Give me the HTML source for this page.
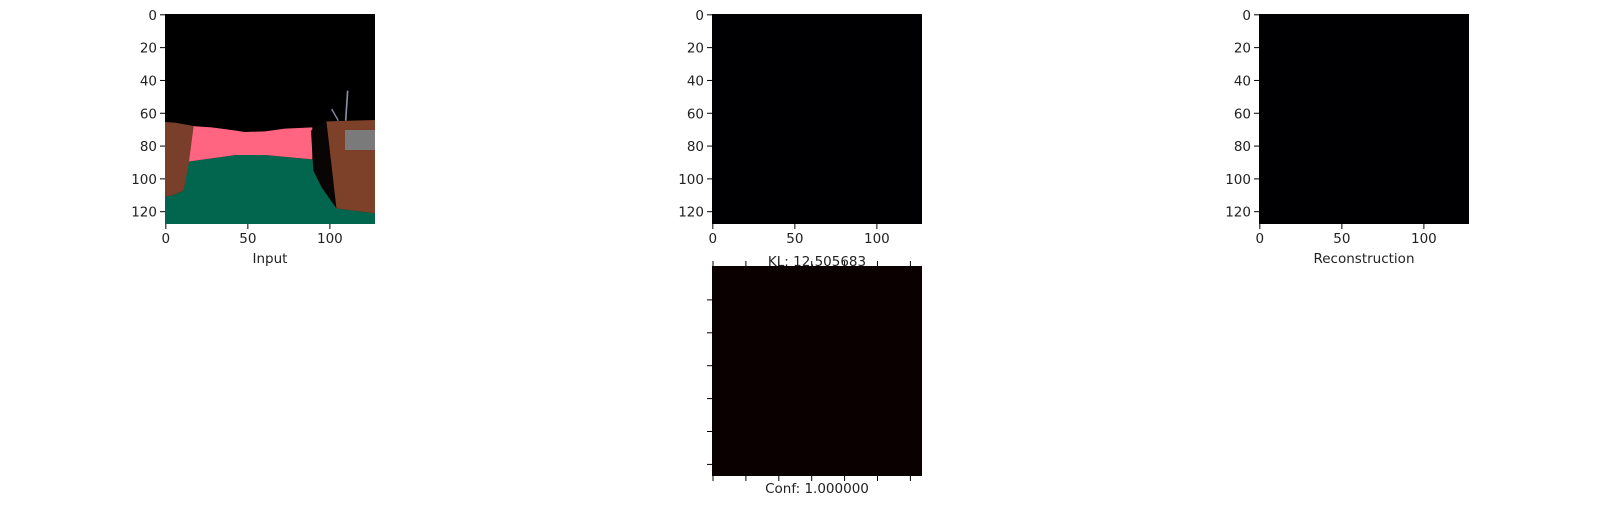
<!DOCTYPE html>
<html><head><meta charset="utf-8">
<style>
html,body{margin:0;padding:0;background:#fff;}
svg{display:block;}
text{font-family:"DejaVu Sans","Liberation Sans",sans-serif;font-size:13.5px;fill:#222;}
</style></head>
<body>
<svg id="fig" width="1612" height="510" viewBox="0 0 1612 510">
  <rect width="1612" height="510" fill="#fff"/>
  <!-- input image -->
  <svg x="165" y="14" width="210" height="210" viewBox="0 0 630 630" preserveAspectRatio="none">
    <rect width="630" height="630" fill="#000"/>
    <polygon fill="#02654e" points="0,548 20,545 56,530 69,443 213,423 300,423 442,436 470,490 514,583 630,598 630,630 0,630"/>
    <polygon fill="#ff6580" points="79,336 140,340 200,348 240,354 300,352 360,344 442,340 442,436 300,423 213,423 69,443"/>
    <polygon fill="#7a3f2b" points="0,324 30,326 86,336 72,443 56,530 20,545 0,548"/>
    <polygon fill="#7d4029" points="484,322 630,318 630,598 514,583 500,460"/>
    <polygon fill="#0a0505" points="438,350 484,322 500,460 514,583 470,520 445,470"/>
    <rect x="540" y="348" width="90" height="60" fill="#7a7a7a"/>
    <line x1="548" y1="230" x2="542" y2="320" stroke="#8890a0" stroke-width="5"/>
    <line x1="500" y1="285" x2="520" y2="320" stroke="#8890a0" stroke-width="4"/>
  </svg>
  <rect x="712" y="14" width="210" height="210" fill="#000003"/>
  <rect x="1259" y="14" width="210" height="210" fill="#000003"/>
  <rect x="712" y="266" width="210" height="210" fill="#0b0000"/>
  <g id="axes" stroke="#000" stroke-width="1"></g>
  <g id="labels"></g>
  <text x="270" y="263" text-anchor="middle">Input</text>
  <text x="817" y="266" text-anchor="middle">KL: 12.505683</text>
  <text x="1364" y="263" text-anchor="middle">Reconstruction</text>
  <text x="817" y="493" text-anchor="middle">Conf: 1.000000</text>
</svg>
<script>
const xTicks = [0, 50, 100];
const yTicks = [0, 20, 40, 60, 80, 100, 120];
const imgSize = 128;
const panels = [[165,14],[712,14],[1259,14]];
const NS = "http://www.w3.org/2000/svg";
const ax = document.getElementById('axes');
const lb = document.getElementById('labels');
const S = 210;
function sc(v){ return (v + 0.5) / imgSize * S; }
function line(x1,y1,x2,y2){
  const l = document.createElementNS(NS,'line');
  l.setAttribute('x1',x1);l.setAttribute('y1',y1);l.setAttribute('x2',x2);l.setAttribute('y2',y2);
  
  
  ax.appendChild(l);
}
function txt(x,y,s,anchor){
  const t = document.createElementNS(NS,'text');
  t.setAttribute('x',x);t.setAttribute('y',y);t.setAttribute('text-anchor',anchor);
  t.textContent = s;
  
  
  lb.appendChild(t);
}
panels.forEach(([px,py])=>{
  xTicks.forEach(v=>{ const x = px + sc(v); line(x,py+S,x,py+S+5); txt(x,py+S+19,String(v),'middle'); });
  yTicks.forEach(v=>{ const y = py + sc(v); line(px-5,y,px,y); txt(px-8,y+5,String(v),'end'); });
});
// confidence panel: unlabeled ticks
const confTicks = [0,1,2,3,4,5,6];
const confSpacing = 32.9;
confTicks.forEach(i=>{
  const x = 713 + i*confSpacing;
  line(x,266,x,261); line(x,476,x,481);
});
confTicks.slice(1).forEach(i=>{
  const y = 267 + i*confSpacing;
  line(707,y,712,y);
});
</script>
</body></html>
